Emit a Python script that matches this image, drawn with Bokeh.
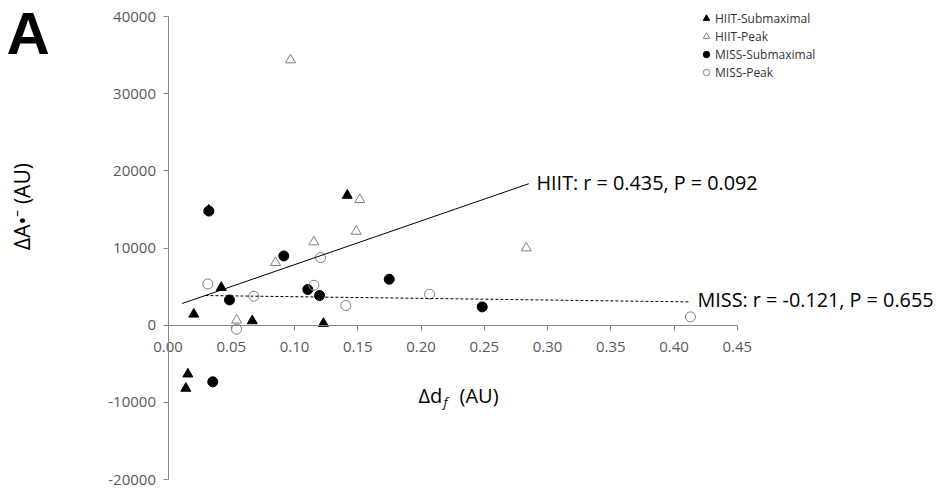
import math
from bokeh.plotting import figure
from bokeh.models import Range1d, FixedTicker, Label, Legend, LegendItem
from bokeh.embed import file_html
from bokeh.resources import INLINE

# ---------------- data ----------------
hiit_sub_x = [0.0323, 0.1417, 0.0421, 0.0204, 0.0666, 0.1229, 0.0157, 0.0141]
hiit_sub_y = [14900, 16820, 4880, 1420, 560, 220, -6340, -8190]

hiit_peak_x = [0.0968, 0.1516, 0.1488, 0.1153, 0.0850, 0.0542, 0.2832]
hiit_peak_y = [34370, 16260, 12160, 10780, 8110, 650, 10000]

miss_sub_x = [0.0323, 0.0915, 0.1749, 0.1105, 0.1198, 0.0486, 0.2484, 0.0354]
miss_sub_y = [14790, 8970, 5950, 4620, 3840, 3270, 2370, -7340]

miss_peak_x = [0.0315, 0.1153, 0.1206, 0.0678, 0.1406, 0.0542, 0.2067, 0.4130]
miss_peak_y = [5340, 5170, 8760, 3750, 2550, -520, 4010, 1070]

hiit_fit_x = [0.0112, 0.2852]
hiit_fit_y = [2807, 18330]
miss_fit_x = [0.0296, 0.4130]
miss_fit_y = [3840, 3015]

x_ticks = [0.0, 0.05, 0.1, 0.15, 0.2, 0.25, 0.3, 0.35, 0.4, 0.45]
x_tick_labels = ["0.00", "0.05", "0.10", "0.15", "0.20", "0.25", "0.30", "0.35", "0.40", "0.45"]
y_ticks = [-20000, -10000, 0, 10000, 20000, 30000, 40000]
y_tick_labels = ["-20000", "-10000", "0", "10000", "20000", "30000", "40000"]

series_names = ["HIIT-Submaximal", "HIIT-Peak", "MISS-Submaximal", "MISS-Peak"]
hiit_text = "HIIT: r = 0.435, P = 0.092"
miss_text = "MISS: r = -0.121, P = 0.655"

# ---------------- geometry ----------------
W, H = 939, 491
X0_PX = 167.5          # pixel of x = 0
PX_PER_UNIT = 1265.0   # pixels per x unit
Y_TOP_PX, Y_BOT_PX = 16.0, 479.0   # pixels of 40000 and -20000
PX_PER_Y = (Y_BOT_PX - Y_TOP_PX) / 60000.0

x_start = -X0_PX / PX_PER_UNIT
x_end = (W - X0_PX) / PX_PER_UNIT
y_end = 40000 + Y_TOP_PX / PX_PER_Y
y_start = -20000 - (H - Y_BOT_PX) / PX_PER_Y

FONT = "Open Sans"
AXIS_GRAY = "#868686"
LABEL_GRAY = "#595959"
OPEN_GRAY = "#7f7f7f"

p = figure(width=W, height=H, x_range=Range1d(x_start, x_end), y_range=Range1d(y_start, y_end),
           output_backend="svg", toolbar_location=None,
           min_border=0, min_border_left=0, min_border_right=0,
           min_border_top=0, min_border_bottom=0)
p.xgrid.visible = False
p.ygrid.visible = False
p.outline_line_color = None
p.background_fill_color = "white"
p.border_fill_color = "white"

# y axis crossing at x = 0
ya = p.yaxis[0]
ya.fixed_location = 0
ya.bounds = (-20000, 40000)
ya.ticker = FixedTicker(ticks=y_ticks)
ya.major_label_overrides = dict(zip(y_ticks, y_tick_labels))
ya.axis_line_color = AXIS_GRAY
ya.major_tick_line_color = AXIS_GRAY
ya.major_tick_out = 5
ya.major_tick_in = 0
ya.minor_tick_out = 0
ya.minor_tick_in = 0
ya.major_label_text_font = FONT
ya.major_label_text_font_size = "15px"
ya.major_label_text_color = LABEL_GRAY
ya.major_label_standoff = 7

# x axis crossing at y = 0
xa = p.xaxis[0]
xa.fixed_location = 0
xa.bounds = (0, 0.45)
xa.ticker = FixedTicker(ticks=x_ticks)
xa.major_label_overrides = dict(zip(x_ticks, x_tick_labels))
xa.axis_line_color = AXIS_GRAY
xa.major_tick_line_color = AXIS_GRAY
xa.major_tick_out = 5
xa.major_tick_in = 0
xa.minor_tick_out = 0
xa.minor_tick_in = 0
xa.major_label_text_font = FONT
xa.major_label_text_font_size = "15px"
xa.major_label_text_color = LABEL_GRAY
xa.major_label_standoff = 12

# ---------------- marks ----------------
r_hs = p.scatter(hiit_sub_x, hiit_sub_y, marker="triangle", size=10,
                 fill_color="black", line_color="black")
r_hp = p.scatter(hiit_peak_x, hiit_peak_y, marker="triangle", size=10,
                 fill_color="white", fill_alpha=0, line_color=OPEN_GRAY, line_width=1)
r_ms = p.scatter(miss_sub_x, miss_sub_y, marker="circle", size=10,
                 fill_color="black", line_color="black")
r_mp = p.scatter(miss_peak_x, miss_peak_y, marker="circle", size=10,
                 fill_color="white", fill_alpha=0, line_color=OPEN_GRAY, line_width=1)

p.line(hiit_fit_x, hiit_fit_y, line_color="black", line_width=1)
p.line(miss_fit_x, miss_fit_y, line_color="black", line_width=1, line_dash="3 2")

# ---------------- legend ----------------
leg_left_px, leg_top_px, leg_h = 698, 14.5, 66
legend = Legend(items=[LegendItem(label=n, renderers=[r]) for n, r in
                       zip(series_names, [r_hs, r_hp, r_ms, r_mp])],
                location=(leg_left_px, H - (leg_top_px + leg_h)), orientation="vertical",
                glyph_width=16, glyph_height=16, label_height=16, label_width=10,
                spacing=1, padding=0, margin=0, label_standoff=1,
                label_text_font=FONT, label_text_font_size="12px",
                label_text_color="#333333",
                border_line_color=None, background_fill_alpha=0)
p.add_layout(legend)

# ---------------- texts ----------------
def dx(px):
    return (px - X0_PX) / PX_PER_UNIT

def dy(py):
    return 40000 - (py - Y_TOP_PX) / PX_PER_Y

p.add_layout(Label(x=dx(536), y=dy(182), text=hiit_text, text_font=FONT,
                   text_font_size="19.8px", text_color="black",
                   text_align="left", text_baseline="middle"))
p.add_layout(Label(x=dx(697), y=dy(298.5), text=miss_text, text_font=FONT,
                   text_font_size="19.8px", text_color="black",
                   text_align="left", text_baseline="middle"))

# y-axis title
p.add_layout(Label(x=dx(21), y=dy(206), text="\u0394A\u2022\u207b (AU)", text_font=FONT,
                   text_font_size="21px", text_color="black", angle=math.pi / 2,
                   text_align="center", text_baseline="middle"))

# x-axis title:  Δd_f (AU)
p.add_layout(Label(x=dx(418), y=dy(395), text="\u0394d", text_font=FONT,
                   text_font_size="20px", text_color="black",
                   text_align="left", text_baseline="middle"))
p.add_layout(Label(x=dx(443), y=dy(401), text="f", text_font=FONT,
                   text_font_size="13px", text_font_style="italic", text_color="black",
                   text_align="left", text_baseline="middle"))
p.add_layout(Label(x=dx(459), y=dy(395), text="(AU)", text_font=FONT,
                   text_font_size="20px", text_color="black",
                   text_align="left", text_baseline="middle"))

# panel letter
p.add_layout(Label(x=dx(6), y=dy(33), text="A", text_font="Liberation Sans",
                   text_font_style="bold", text_font_size="60px", text_color="black",
                   text_align="left", text_baseline="alphabetic"))

open("out.html", "w").write(file_html(p, INLINE))
